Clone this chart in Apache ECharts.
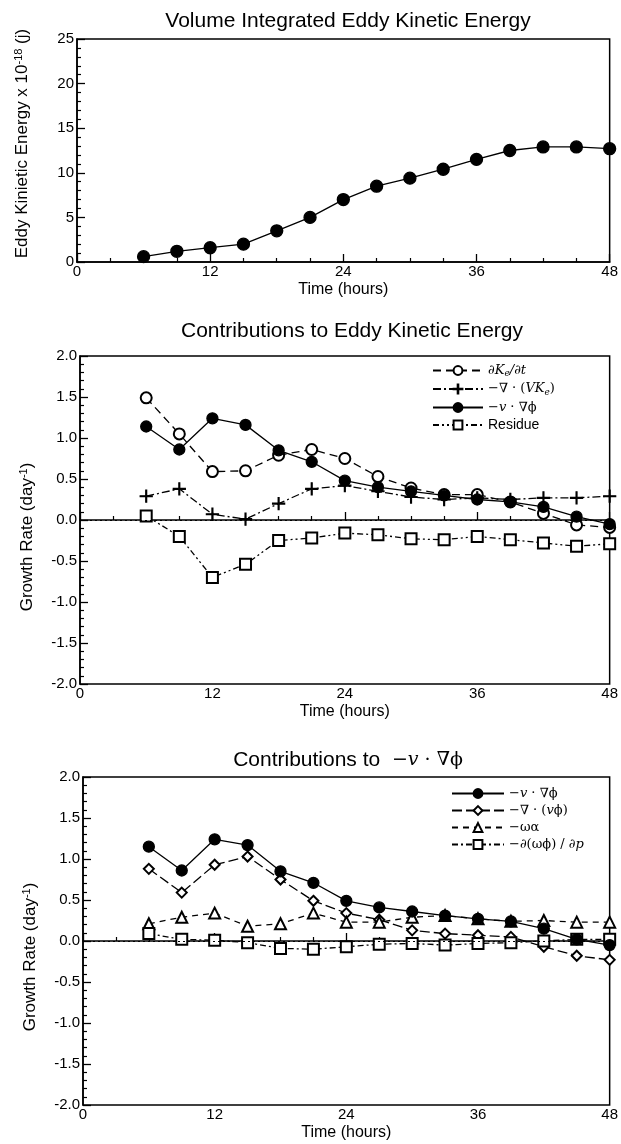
<!DOCTYPE html>
<html><head><meta charset="utf-8">
<script src="https://cdn.jsdelivr.net/npm/echarts@6/dist/echarts.min.js"></script>
<style>html,body{margin:0;padding:0;background:#fff}#c{width:621px;height:1144px}</style>
</head><body><div id="c"></div>
<script>
const hours = [6,9,12,15,18,21,24,27,30,33,36,39,42,45,48];
const xTicks = [0,12,24,36,48];
// Panel 1
const eke = [0.6,1.2,1.6,2.0,3.5,5.0,7.0,8.5,9.4,10.4,11.5,12.5,12.9,12.9,12.7];
// Panel 2
const dKdt = [1.49,1.05,0.59,0.60,0.79,0.86,0.75,0.53,0.39,0.31,0.31,0.22,0.08,-0.06,-0.09];
const fluxDiv = [0.29,0.38,0.07,0.01,0.20,0.38,0.42,0.35,0.28,0.25,0.27,0.25,0.27,0.27,0.29];
const conv1 = [1.14,0.86,1.24,1.16,0.85,0.71,0.48,0.40,0.35,0.30,0.25,0.22,0.16,0.04,-0.05];
const residue = [0.05,-0.20,-0.70,-0.54,-0.25,-0.22,-0.16,-0.18,-0.23,-0.24,-0.20,-0.24,-0.28,-0.32,-0.29];
// Panel 3
const conv2 = [1.15,0.86,1.24,1.17,0.85,0.71,0.49,0.41,0.36,0.31,0.27,0.24,0.15,0.02,-0.05];
const divVphi = [0.88,0.59,0.93,1.03,0.75,0.49,0.34,0.26,0.13,0.09,0.07,0.05,-0.07,-0.18,-0.23];
const omegaAlpha = [0.21,0.29,0.34,0.18,0.21,0.34,0.23,0.23,0.29,0.31,0.27,0.24,0.25,0.23,0.23];
const dOmegaPhi = [0.09,0.02,0.01,-0.02,-0.09,-0.10,-0.07,-0.04,-0.03,-0.05,-0.03,-0.02,0.00,0.02,0.02];

const pts = arr => hours.map((h,i)=>[h,arr[i]]);
const SANS = 'Liberation Sans';
const SERIF = 'DejaVu Serif';
const plusPath = 'path://M-1,-0.07H1V0.07H-1Z M-0.07,-1H0.07V1H-0.07Z';

const richMath = {
  m:{fontFamily:SERIF,fontSize:13,color:'#000',fontWeight:'normal'},
  i:{fontFamily:SERIF,fontStyle:'italic',fontSize:13,color:'#000',fontWeight:'normal'},
  sub:{fontFamily:SERIF,fontStyle:'italic',fontSize:9,color:'#000',padding:[7,0,0,0]},
  s:{fontFamily:SANS,fontSize:14,color:'#000'}
};
const legendLabels = {
  'dKdt':'{i|∂K}{sub|e}{i|/∂t}',
  'flux':'{m|−∇ · (}{i|VK}{sub|e}{m|)}',
  'conv1':'{m|−}{i|v}{m| · ∇ϕ}',
  'res':'{s|Residue}',
  'conv2':'{m|−}{i|v}{m| · ∇ϕ}',
  'div':'{m|−∇ · (}{i|v}{m|ϕ)}',
  'oa':'{m|−ωα}',
  'dop':'{m|−∂(ωϕ) / ∂}{i|p}'
};

function xAxis(gi){
  return {gridIndex:gi,type:'value',min:0,max:48,interval:12,
    name:'Time (hours)',nameLocation:'middle',nameGap:20,
    nameTextStyle:{fontFamily:SANS,fontSize:16,color:'#000'},
    axisLine:{lineStyle:{color:'#000',width:1.5}},
    axisTick:{inside:true,length:8,lineStyle:{color:'#000',width:1.3}},
    minorTick:{show:true,splitNumber:4,length:4,lineStyle:{color:'#000',width:1.2}},
    axisLabel:{fontFamily:SANS,fontSize:15,color:'#000',margin:2,
      formatter:v=>xTicks.includes(v)?String(v):''},
    splitLine:{show:false}};
}
function yAxis(gi,min,max,interval,nameRich,fmt,gap,pad,fs){
  return {gridIndex:gi,type:'value',min:min,max:max,interval:interval,
    name:nameRich,nameLocation:'middle',nameGap:gap,
    nameTextStyle:{fontFamily:SANS,fontSize:fs,color:'#000',padding:pad,
      rich:{b:{fontFamily:SANS,fontSize:fs,color:'#000'},sup:{fontFamily:SANS,fontSize:11,color:'#000',padding:[0,0,8,0]}}},
    axisLine:{lineStyle:{color:'#000',width:1.5}},
    axisTick:{inside:true,length:8,lineStyle:{color:'#000',width:1.3}},
    minorTick:{show:true,splitNumber:5,length:4,lineStyle:{color:'#000',width:1.2}},
    axisLabel:{fontFamily:SANS,fontSize:15,color:'#000',margin:3,formatter:fmt||(v=>String(v))},
    splitLine:{show:false}};
}
const f1 = v=>v.toFixed(1);

function line(name,xi,arr,symbol,size,dash,filled){
  return {name:name,type:'line',xAxisIndex:xi,yAxisIndex:xi,data:pts(arr),
    symbol:symbol,symbolSize:size,showSymbol:true,
    lineStyle:{color:'#000',width:1.3,type:dash},
    itemStyle:{color:'#000',borderColor:'#000',borderWidth:1.3},
    z: filled?3:2};
}

const zeroLine = {silent:true,symbol:['none','none'],label:{show:false},
  lineStyle:{color:'#000',type:[2,3],width:1.2},data:[{yAxis:0}]};

const grids=[{left:77,right:9,top:39,height:223},{left:80,right:7,top:356,height:328},{left:83,right:5,top:777,height:328}];
const titleStyle = {fontFamily:SANS,fontWeight:'normal',fontSize:21,color:'#000'};
const option = {
  backgroundColor:'#fff',
  animation:false,
  title:[
    {text:'Volume Integrated Eddy Kinetic Energy',left:343,top:6,textAlign:'center',textStyle:titleStyle},
    {text:'Contributions to Eddy Kinetic Energy',left:347,top:316,textAlign:'center',textStyle:titleStyle},
    {text:'{t|Contributions to  }{m|−}{i|v}{m| · ∇ϕ}',left:343,top:745,textAlign:'center',
      textStyle:{fontWeight:'normal',rich:{t:{fontFamily:SANS,fontSize:21,fontWeight:'normal',color:'#000'},m:{fontFamily:SERIF,fontSize:19,fontWeight:'normal',color:'#000'},i:{fontFamily:SERIF,fontStyle:'italic',fontWeight:'normal',fontSize:19,color:'#000'}}}}
  ],
  grid: grids.map(g=>Object.assign({show:true,borderColor:'#000',borderWidth:1.5,backgroundColor:'transparent'},g)),
  legend:[
    {data:['dKdt','flux','conv1','res'],orient:'vertical',left:427,top:359,itemGap:4,itemWidth:50,itemHeight:11,
      formatter:n=>legendLabels[n],textStyle:{rich:richMath}},
    {data:['conv2','div','oa','dop'],orient:'vertical',left:446,top:782,itemGap:4,itemWidth:52,itemHeight:11,
      formatter:n=>legendLabels[n],textStyle:{rich:richMath}}
  ],
  xAxis:[xAxis(0),xAxis(1),xAxis(2)],
  yAxis:[
    yAxis(0,0,25,5,'{b|Eddy Kinietic Energy x 10}{sup|-18}{b| (j)}',null,45,[0,0,0,14],17),
    yAxis(1,-2,2,0.5,'{b|Growth Rate (day}{sup|-1}{b|)}',f1,43,[0,34,0,0],17),
    yAxis(2,-2,2,0.5,'{b|Growth Rate (day}{sup|-1}{b|)}',f1,43,[0,32,0,0],17)
  ],
  series:[
    line('eke',0,eke,'circle',12,'solid',true),
    Object.assign(line('dKdt',1,dKdt,'emptyCircle',11,[8,5]),{markLine:zeroLine}),
    line('flux',1,fluxDiv,plusPath,12,[8,3,2,3]),
    line('conv1',1,conv1,'circle',11,'solid',true),
    line('res',1,residue,'emptyRect',11,[6,3,2,3,2,3]),
    Object.assign(line('conv2',2,conv2,'circle',11,'solid',true),{markLine:zeroLine}),
    line('div',2,divVphi,'emptyDiamond',10,[10,4]),
    line('oa',2,omegaAlpha,'emptyTriangle',11,[6,5]),
    line('dop',2,dOmegaPhi,'emptyRect',11,[6,3,2,3])
  ]
};
const chart = echarts.init(document.getElementById('c'),null,{renderer:'canvas'});
chart.setOption(option);
</script></body></html>
